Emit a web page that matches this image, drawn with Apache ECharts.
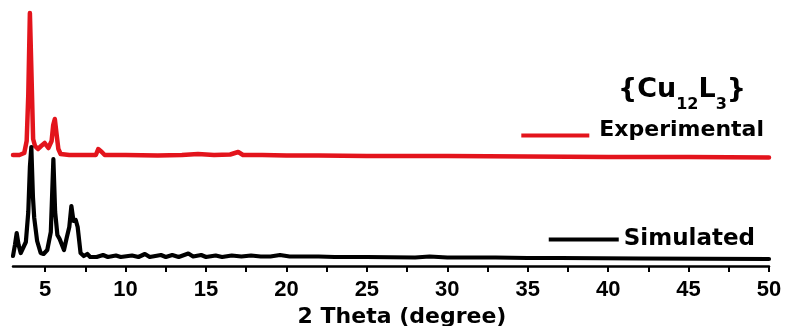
<!DOCTYPE html>
<html>
<head>
<meta charset="utf-8">
<script src="https://cdn.jsdelivr.net/npm/echarts@6/dist/echarts.min.js"></script>
<style>
html,body{margin:0;padding:0;background:#fff;}
#chart{width:785px;height:326px;}
</style>
</head>
<body>
<div id="chart"></div>
<script>
// ---- data ----
const seriesNames = ['Experimental', 'Simulated'];
// Experimental pattern: 2θ and intensity (a.u.)
const expTheta = [3.0, 3.4, 3.7, 3.85, 3.95, 4.05, 4.15, 4.25, 4.37, 4.55, 4.75, 4.97, 5.2, 5.4, 5.5, 5.6, 5.7, 5.82, 5.96, 6.5, 7.5, 8.15, 8.3, 8.4, 8.52, 8.7, 10, 12, 13.5, 14.5, 15.5, 16.5, 17.0, 17.3, 18.5, 20, 22, 25, 30, 35, 40, 45, 50];
const expInt   = [0, 0, 2, 14, 60, 142, 80, 16, 9, 6, 9, 12, 7, 14, 30, 36, 22, 6, 1, 0, 0, 0, 6, 8, 3, 0, 0, -0.5, 0, 1, 0, 0.5, 3, 0, 0, -0.5, -0.5, -1, -1, -1.5, -2, -2, -2.5];
// Simulated pattern: 2θ and intensity (a.u.)
const simTheta = [3.0, 3.12, 3.23, 3.35, 3.48, 3.6, 3.8, 3.95, 4.05, 4.14, 4.24, 4.32, 4.4, 4.5, 4.72, 4.9, 5.13, 5.35, 5.51, 5.62, 5.76, 5.9, 6.17, 6.35, 6.5, 6.63, 6.76, 6.9, 7.02, 7.2, 7.4, 7.62, 7.8, 8.2, 8.6, 8.9, 9.4, 9.7, 10.4, 10.8, 11.2, 11.5, 12.2, 12.5, 12.9, 13.3, 13.9, 14.2, 14.7, 15.0, 15.6, 16.0, 16.6, 17.2, 17.8, 18.4, 19.0, 19.6, 20.2, 21.0, 22.0, 23.0, 25.0, 28.0, 28.9, 30.0, 33.0, 35.0, 37.0, 42.0, 50.0];
const simInt   = [1, 12, 24, 12, 4, 6, 15, 45, 90, 110, 60, 39, 38, 16, 4, 3, 7, 25, 98, 45, 22, 18, 7, 20, 30, 51, 36, 37, 30, 4, 1, 3, 0, 0, 2, 0, 1.5, 0, 1.5, 0, 3, 0, 2, 0, 2, 0, 3.5, 0.5, 2, 0, 1.5, 0, 1.5, 0.5, 1.5, 0.5, 0.5, 2, 0.5, 0.5, 0.5, 0, 0, -0.5, 0.5, -0.5, -0.5, -1, -1, -1.5, -2];
// vertical stacking offsets of the two patterns
const expOffset = 111;
const simOffset = 9;
// axis ticks / labels
const xTickLabels = [5, 10, 15, 20, 25, 30, 35, 40, 45, 50];
const xTicks = [5, 7.5, 10, 12.5, 15, 17.5, 20, 22.5, 25, 27.5, 30, 32.5, 35, 37.5, 40, 42.5, 45, 47.5, 50];
const xAxisName = '2 Theta (degree)';

const pair = (xs, ys, off) => xs.map((x, i) => [x, ys[i] + off]);

const RED = '#e3141c';
const chart = echarts.init(document.getElementById('chart'), null, {renderer: 'canvas'});
chart.setOption({
  animation: false,
  backgroundColor: '#fff',
  title: {
    text: '{a|{}{a|Cu}{s|12}{a|L}{s|3}}',
    right: 34, top: 62,
    textStyle: {
      fontFamily: 'DejaVu Sans', fontWeight: 'bold', fontSize: 27, color: '#000',
      rich: {
        a: {fontFamily: 'DejaVu Sans', fontWeight: 'bold', fontSize: 27, color: '#000'},
        s: {fontFamily: 'DejaVu Sans', fontWeight: 'bold', fontSize: 16, color: '#000', padding: [30, 0, 0, 0]}
      }
    }
  },
  legend: [
    {
      data: [seriesNames[0]], right: 16, top: 114,
      icon: 'path://M0,0 L68,0 L68,0.01 L0,0.01 Z M0,14 L68,14 L68,18 L0,18 Z M0,20.99 L68,20.99 L68,21 L0,21 Z',
      itemWidth: 68, itemHeight: 21, itemGap: 0,
      textStyle: {fontFamily: 'DejaVu Sans', fontWeight: 'bold', fontSize: 22, color: '#000', padding: [0, 0, 0, 5]}
    },
    {
      data: [seriesNames[1]], right: 25, top: 223,
      icon: 'rect', itemWidth: 70, itemHeight: 4, itemGap: 0,
      textStyle: {fontFamily: 'DejaVu Sans', fontWeight: 'bold', fontSize: 23, color: '#000', padding: [0, 0, 0, 0]}
    }
  ],
  grid: {left: 13, right: 16, top: 0, bottom: 60, containLabel: false, outerBoundsMode: 'none'},
  xAxis: {
    type: 'value', min: 3, max: 50,
    name: xAxisName, nameLocation: 'middle', nameGap: 34,
    nameTextStyle: {fontFamily: 'DejaVu Sans', fontWeight: 'bold', fontSize: 22, color: '#000', padding: [0, 0, 0, 22]},
    axisLine: {show: true, onZero: false, lineStyle: {color: '#000', width: 2.5}},
    axisTick: {show: true, inside: false, length: 6, lineStyle: {color: '#000', width: 2}, customValues: xTicks},
    axisLabel: {show: true, margin: 13, fontFamily: 'Liberation Sans', fontWeight: 'bold', fontSize: 22, color: '#000', customValues: xTickLabels},
    splitLine: {show: false}
  },
  yAxis: {
    type: 'value', min: 0, max: 266, show: false,
    splitLine: {show: false}
  },
  series: [
    {
      name: seriesNames[0], type: 'line', data: pair(expTheta, expInt, expOffset),
      showSymbol: false, symbol: 'none', color: RED,
      lineStyle: {color: RED, width: 4.5, join: 'round', cap: 'round'}, z: 2
    },
    {
      name: seriesNames[1], type: 'line', data: pair(simTheta, simInt, simOffset),
      showSymbol: false, symbol: 'none', color: '#000',
      lineStyle: {color: '#000', width: 4.2, join: 'round', cap: 'round'}, z: 3
    }
  ]
});
</script>
</body>
</html>
